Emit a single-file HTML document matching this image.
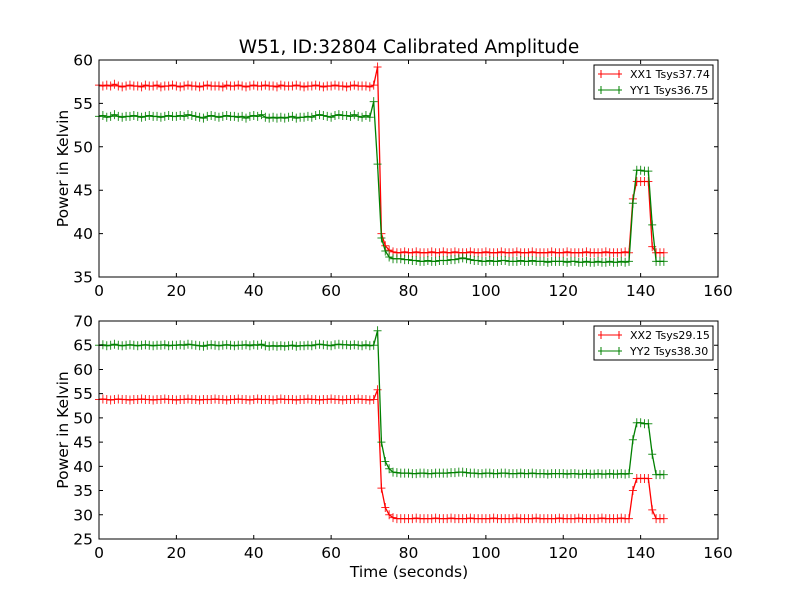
<!DOCTYPE html>
<html><head><meta charset="utf-8"><style>
html,body{margin:0;padding:0;background:#fff;}
svg{display:block;font-family:"DejaVu Sans","Liberation Sans",sans-serif;}
</style></head><body>
<svg id="chart" width="800" height="600" viewBox="0 0 800 600" xmlns="http://www.w3.org/2000/svg">
<rect width="800" height="600" fill="#fff"/>
<text x="409" y="53" font-size="18.5" text-anchor="middle">W51, ID:32804 Calibrated Amplitude</text>
<g id="top"></g>
<g id="bot"></g>
<text x="409" y="577" font-size="15.5" text-anchor="middle">Time (seconds)</text>
</svg>
<script>
const xTicks=[0,20,40,60,80,100,120,140,160];
const topYTicks=[35,40,45,50,55,60];
const botYTicks=[25,30,35,40,45,50,55,60,65,70];
const xx1=[57.1,57.0,57.1,57.0,57.2,57.0,56.9,57.0,57.1,57.0,
57.0,56.9,57.1,57.0,57.0,57.1,56.9,57.0,57.0,57.1,
57.0,56.9,57.0,57.1,57.0,57.0,56.9,57.0,57.1,57.0,
57.0,57.0,56.9,57.1,57.0,57.0,57.1,57.0,56.9,57.0,
57.1,57.0,57.0,57.1,57.0,57.0,56.9,57.1,57.0,57.0,
57.0,57.1,57.0,56.9,57.0,57.0,57.1,57.0,56.9,57.0,
57.0,57.1,57.0,57.0,56.9,57.0,57.1,57.0,57.0,57.0,
56.9,57.1,59.2,40.0,38.6,38.1,37.9,37.8,37.8,37.9,
37.8,37.8,37.9,37.8,37.8,37.8,37.9,37.8,37.8,37.9,
37.8,37.8,37.9,37.8,37.8,37.8,37.9,37.8,37.8,37.8,
37.9,37.8,37.8,37.8,37.9,37.8,37.8,37.8,37.9,37.8,
37.8,37.8,37.9,37.8,37.8,37.8,37.8,37.9,37.8,37.8,
37.8,37.9,37.8,37.8,37.8,37.8,37.9,37.8,37.8,37.8,
37.8,37.9,37.8,37.8,37.8,37.8,37.9,37.8,44.0,46.0,
46.0,46.0,46.0,38.5,37.8,37.8,37.8];
const yy1=[53.5,53.6,53.4,53.5,53.7,53.5,53.4,53.5,53.5,53.6,
53.5,53.4,53.5,53.6,53.5,53.5,53.4,53.5,53.6,53.5,
53.5,53.6,53.5,53.7,53.6,53.5,53.4,53.3,53.5,53.6,
53.5,53.4,53.5,53.6,53.5,53.5,53.4,53.5,53.3,53.5,
53.6,53.5,53.7,53.4,53.3,53.4,53.3,53.4,53.3,53.4,
53.5,53.3,53.4,53.4,53.5,53.4,53.6,53.7,53.6,53.5,
53.4,53.6,53.7,53.6,53.6,53.5,53.7,53.5,53.4,53.6,
53.4,55.2,48.0,39.5,38.0,37.3,37.1,37.1,37.1,37.0,
37.0,36.9,36.9,36.8,36.8,36.9,36.8,36.8,36.9,36.9,
36.9,37.0,37.0,37.1,37.2,37.1,37.0,36.9,36.9,36.8,
36.8,36.9,36.8,36.8,36.9,36.9,36.8,36.8,36.8,36.9,
36.8,36.8,36.9,36.8,36.8,36.8,36.7,36.8,36.8,36.8,
36.8,36.7,36.8,36.8,36.7,36.7,36.8,36.7,36.7,36.8,
36.7,36.7,36.8,36.7,36.7,36.8,36.7,36.8,43.5,47.3,
47.3,47.2,47.2,41.0,36.8,36.8,36.8];
const xx2=[53.8,53.9,53.8,53.7,53.8,53.9,53.8,53.8,53.7,53.8,
53.8,53.9,53.8,53.8,53.7,53.8,53.8,53.9,53.8,53.8,
53.7,53.8,53.8,53.9,53.8,53.8,53.7,53.8,53.8,53.8,
53.9,53.8,53.8,53.7,53.8,53.8,53.9,53.8,53.8,53.7,
53.8,53.9,53.8,53.8,53.8,53.7,53.8,53.9,53.8,53.8,
53.8,53.7,53.8,53.8,53.9,53.8,53.8,53.7,53.8,53.8,
53.9,53.8,53.8,53.7,53.8,53.8,53.8,53.9,53.8,53.8,
53.7,53.8,55.8,35.5,31.5,30.0,29.4,29.2,29.2,29.2,
29.2,29.2,29.3,29.2,29.2,29.2,29.2,29.3,29.2,29.2,
29.2,29.3,29.2,29.2,29.2,29.2,29.3,29.2,29.2,29.2,
29.2,29.2,29.3,29.2,29.2,29.2,29.2,29.2,29.3,29.2,
29.2,29.2,29.2,29.3,29.2,29.2,29.2,29.2,29.2,29.3,
29.2,29.2,29.2,29.2,29.3,29.2,29.2,29.2,29.2,29.2,
29.3,29.2,29.2,29.2,29.2,29.3,29.2,29.2,35.0,37.5,
37.5,37.5,37.5,31.0,29.2,29.2,29.2];
const yy2=[65.0,65.1,64.9,65.0,65.2,65.0,64.9,65.0,65.1,65.0,
64.9,65.0,65.1,65.0,64.9,65.0,65.0,65.1,64.9,65.0,
65.0,65.1,65.0,65.2,65.1,65.0,64.9,64.8,65.0,65.1,
65.0,64.9,65.0,65.1,65.0,64.9,65.0,65.0,65.1,64.9,
65.1,65.0,65.2,64.9,64.8,64.9,64.8,64.9,64.8,64.9,
65.0,64.8,64.9,64.9,65.0,64.9,65.1,65.2,65.1,65.0,
64.9,65.1,65.2,65.1,65.1,65.0,65.1,65.0,64.9,65.1,
64.9,65.0,68.0,45.0,41.0,39.5,38.8,38.7,38.6,38.6,
38.6,38.5,38.5,38.6,38.6,38.5,38.5,38.6,38.6,38.6,
38.6,38.7,38.7,38.8,38.8,38.7,38.6,38.6,38.5,38.5,
38.6,38.6,38.5,38.5,38.6,38.6,38.5,38.5,38.5,38.6,
38.5,38.5,38.6,38.5,38.5,38.5,38.4,38.5,38.5,38.5,
38.5,38.4,38.5,38.5,38.4,38.4,38.5,38.4,38.4,38.5,
38.4,38.4,38.5,38.4,38.4,38.5,38.4,38.5,45.5,49.0,
49.0,48.8,48.8,42.5,38.3,38.3,38.3];

const NS="http://www.w3.org/2000/svg";
function mk(tag,attrs,parent){const e=document.createElementNS(NS,tag);for(const k in attrs)e.setAttribute(k,attrs[k]);parent.appendChild(e);return e;}

function panel(g,top,bottom,ymin,ymax,yTicks,s1,s2,l1,l2){
  const L=99,R=718;
  const xS=v=>L+(v-0)/(160-0)*(R-L);
  const yS=v=>bottom-(v-ymin)/(ymax-ymin)*(bottom-top);
  [[s1,'#ff0000','red'],[s2,'#008000','green']].forEach(([s,c,nm])=>{
    let d='';
    s.forEach((v,i)=>{d+=(i?'L':'M')+xS(i).toFixed(2)+','+yS(v).toFixed(2);});
    const p=mk('path',{d:d,fill:'none',stroke:c,'stroke-width':1.3},g);
    
    
    let m='';
    s.forEach((v,i)=>{const x=xS(i),y=yS(v);m+='M'+(x-4).toFixed(2)+','+y.toFixed(2)+'h8M'+x.toFixed(2)+','+(y-4.5).toFixed(2)+'v9';});
    const mp=mk('path',{d:m,fill:'none',stroke:c,'stroke-width':1,'stroke-opacity':0.85},g);
    
    
  });
  const fr=mk('rect',{x:L,y:top,width:R-L,height:bottom-top,fill:'none',stroke:'#000','stroke-width':1},g);
  
  
  xTicks.forEach(t=>{
    const x=xS(t);
    mk('path',{d:`M${x},${bottom}v-4M${x},${top}v4`,stroke:'#000','stroke-width':1},g);
    const tx=mk('text',{x:x,y:bottom+19,'font-size':15.5,'text-anchor':'middle'},g);
    tx.textContent=t;
    
    
  });
  yTicks.forEach(t=>{
    const y=yS(t);
    mk('path',{d:`M${L},${y}h4M${R},${y}h-4`,stroke:'#000','stroke-width':1},g);
    const tx=mk('text',{x:L-6,y:y+5.5,'font-size':15.5,'text-anchor':'end'},g);
    tx.textContent=t;
    
    
  });
  const yl=mk('text',{x:0,y:0,'font-size':15.5,'text-anchor':'middle',transform:`translate(68,${(top+bottom)/2}) rotate(-90)`},g);
  yl.textContent='Power in Kelvin';
  
  
  const lg=mk('g',{},g);
  
  
  mk('rect',{x:594,y:top+5,width:119,height:34,fill:'#fff',stroke:'#000','stroke-width':1},lg);
  [[l1,'#ff0000',top+14],[l2,'#008000',top+30]].forEach(([lab,c,y])=>{
    const e=mk('g',{},lg);
    
    
    mk('path',{d:`M598,${y}h24M601,${y-4}v8M619,${y-4}v8`,stroke:c,'stroke-width':1},e);
    const t=mk('text',{x:630,y:y+4,'font-size':11},e);
    t.textContent=lab;
  });
}
panel(document.getElementById('top'),60,277,35,60,topYTicks,xx1,yy1,'XX1 Tsys37.74','YY1 Tsys36.75');
panel(document.getElementById('bot'),321,539,25,70,botYTicks,xx2,yy2,'XX2 Tsys29.15','YY2 Tsys38.30');
</script>
</body></html>
